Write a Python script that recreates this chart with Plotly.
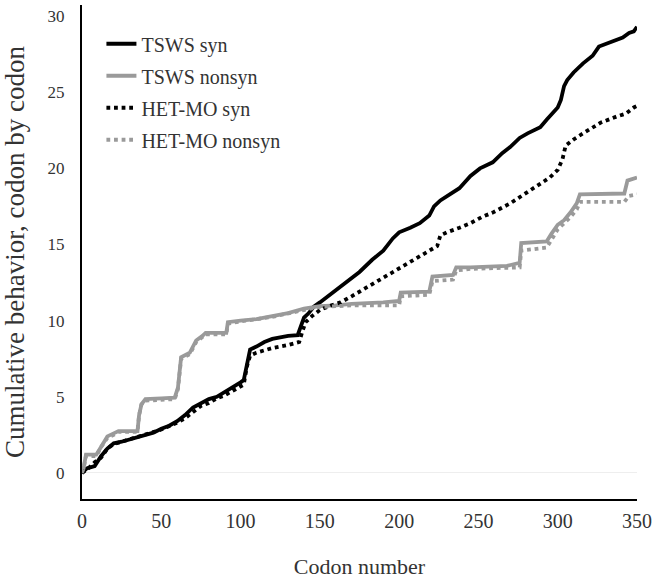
import plotly.graph_objects as go

# ---- data ----
tsws_syn_x = [0, 3, 8, 12, 16, 20, 25, 30, 35, 40, 45, 50, 55, 60, 65, 70, 75, 80, 85, 90, 95, 100, 102, 104, 106,
              110, 115, 120, 125, 130, 136, 138, 140, 143, 146, 150, 155, 160, 167, 175, 183, 190, 196, 200, 207,
              213, 219, 222, 226, 232, 238, 245, 251, 259, 265, 270, 276, 281, 289, 293, 297, 300, 302, 304, 306,
              310, 316, 322, 326, 333, 341, 345, 348, 350]
tsws_syn_y = [0, 0.3, 0.45, 1.1, 1.6, 1.95, 2.05, 2.2, 2.35, 2.5, 2.65, 2.9, 3.1, 3.4, 3.8, 4.3, 4.6, 4.85, 5.0, 5.3,
              5.6, 5.95, 6.1, 7.2, 8.1, 8.3, 8.6, 8.8, 8.9, 9.0, 9.05, 9.6, 10.2, 10.5, 10.9, 11.2, 11.6, 12.0, 12.5,
              13.2, 14.0, 14.6, 15.4, 15.8, 16.1, 16.4, 16.9, 17.5, 17.9, 18.3, 18.7, 19.5, 20.0, 20.4, 21.0, 21.4,
              22.0, 22.3, 22.7, 23.2, 23.7, 24.0, 24.5, 25.4, 25.8, 26.3, 26.9, 27.4, 28.0, 28.3, 28.6, 28.9, 29.0,
              29.3]

tsws_non_x = [0, 1, 2.5, 9, 12, 16, 20, 23, 35, 36, 37.5, 40, 50, 58.5, 60.5, 61.5, 62.5, 68, 70, 72, 76, 78, 91, 92,
              100, 110, 120, 130, 140, 150, 160, 170, 190, 200, 201, 219, 221, 234, 236, 245, 268, 276, 277, 293,
              296, 300, 304, 308, 312, 314, 342, 344, 350]
tsws_non_y = [0, 0.3, 1.2, 1.2, 1.7, 2.4, 2.6, 2.75, 2.75, 3.8, 4.5, 4.85, 4.9, 4.95, 5.6, 6.7, 7.6, 7.9, 8.3, 8.7,
              9.0, 9.2, 9.2, 9.9, 10.0, 10.1, 10.3, 10.5, 10.8, 10.95, 11.0, 11.1, 11.2, 11.3, 11.85, 11.9, 12.9, 13.0,
              13.5, 13.5, 13.6, 13.8, 15.1, 15.2, 15.7, 16.3, 16.6, 17.1, 17.7, 18.3, 18.35, 19.2, 19.4]

het_syn_x = [0, 4, 8, 12, 16, 20, 25, 30, 40, 50, 60, 65, 70, 75, 80, 85, 90, 95, 100, 102, 104, 106, 110, 120, 130,
             137, 139, 141, 145, 150, 157, 163, 170, 175, 185, 194, 203, 213, 220, 224, 226, 230, 238, 245, 252, 259,
             270, 280, 288, 295, 300, 303, 305, 310, 316, 322, 327, 337, 343, 348, 350]
het_syn_y = [0, 0.3, 0.7, 1.0, 1.6, 1.9, 2.05, 2.2, 2.5, 2.85, 3.3, 3.6, 4.0, 4.4, 4.6, 4.9, 5.1, 5.4, 5.7, 5.8, 7.0,
             7.7, 7.9, 8.2, 8.4, 8.6, 9.3, 9.9, 10.3, 10.7, 11.0, 11.2, 11.6, 11.9, 12.5, 13.1, 13.6, 14.2, 14.6,
             14.9, 15.6, 15.8, 16.1, 16.4, 16.8, 17.1, 17.7, 18.4, 18.9, 19.4, 19.9, 20.6, 21.5, 21.9, 22.3, 22.7,
             23.0, 23.4, 23.6, 24.0, 24.1]

het_non_x = [0, 1, 2.5, 9, 12, 16, 20, 23, 35, 36, 37.5, 40, 58.5, 60.5, 62.5, 68, 72, 76, 78, 91, 92, 100, 120, 140,
             150, 160, 170, 200, 201, 219, 221, 234, 236, 245, 270, 276, 277, 293, 296, 300, 304, 308, 312, 314, 342,
             345, 350]
het_non_y = [0, 0.3, 1.1, 1.1, 1.7, 2.3, 2.5, 2.7, 2.7, 3.8, 4.5, 4.75, 4.85, 5.5, 7.5, 7.8, 8.6, 8.9, 9.1, 9.1, 9.8,
             9.95, 10.25, 10.7, 10.9, 10.95, 11.0, 11.0, 11.6, 11.7, 12.6, 12.7, 13.3, 13.4, 13.5, 13.5, 14.6, 14.8,
             15.3, 16.0, 16.4, 16.8, 17.3, 17.8, 17.8, 18.2, 18.3]

x_ticks = [0, 50, 100, 150, 200, 250, 300, 350]
y_ticks = [0, 5, 10, 15, 20, 25, 30]

BLACK = "#000000"
GRAY = "#9a9a9a"
FONT = "Liberation Serif"
TXT = "#333333"

fig = go.Figure()
series = [
    ("TSWS syn", tsws_syn_x, tsws_syn_y, BLACK, "solid"),
    ("TSWS nonsyn", tsws_non_x, tsws_non_y, GRAY, "solid"),
    ("HET-MO syn", het_syn_x, het_syn_y, BLACK, "dot"),
    ("HET-MO nonsyn", het_non_x, het_non_y, GRAY, "dot"),
]
for i, (name, xs, ys, col, dash) in enumerate(series):
    fig.add_trace(go.Scatter(x=xs, y=ys, mode="lines", name=name, legendgroup=f"g{i}",
                             line=dict(color=col, width=3.8, dash=dash)))

fig.update_layout(
    width=656, height=579,
    margin=dict(l=82, r=19, t=5, b=80),
    paper_bgcolor="white", plot_bgcolor="white",
    font=dict(family=FONT, color=TXT),
    showlegend=True,
    legend=dict(x=0.035, y=0.961, xanchor="left", yanchor="top",
                font=dict(family=FONT, size=20, color=TXT),
                bgcolor="rgba(0,0,0,0)", tracegroupgap=3, itemwidth=30),
    xaxis=dict(range=[0, 350], tickvals=x_ticks, showgrid=False, zeroline=False, automargin=False,
               showline=True, linecolor="black", linewidth=2, ticks="",
               tickfont=dict(family=FONT, size=20, color=TXT), ticklabelstandoff=3,
               title=dict(text="Codon number", font=dict(family=FONT, size=22, color=TXT), standoff=41)),
    yaxis=dict(range=[-1.71, 30.73], tickvals=y_ticks, showgrid=False, zeroline=True, automargin=False,
               zerolinecolor="#eeeeee", zerolinewidth=1,
               showline=True, linecolor="black", linewidth=2, ticks="",
               tickfont=dict(family=FONT, size=17, color=TXT), ticklabelstandoff=12,
               title=dict(text="Cumulative behavior, codon by codon", font=dict(family=FONT, size=27, color=TXT),
                          standoff=16)),
)

# remove the default 8px page margin so the figure sits exactly in the window
fig.write_html("out.html", config={"displayModeBar": False},
               post_script="document.body.style.margin='0';document.body.style.overflow='hidden';")
